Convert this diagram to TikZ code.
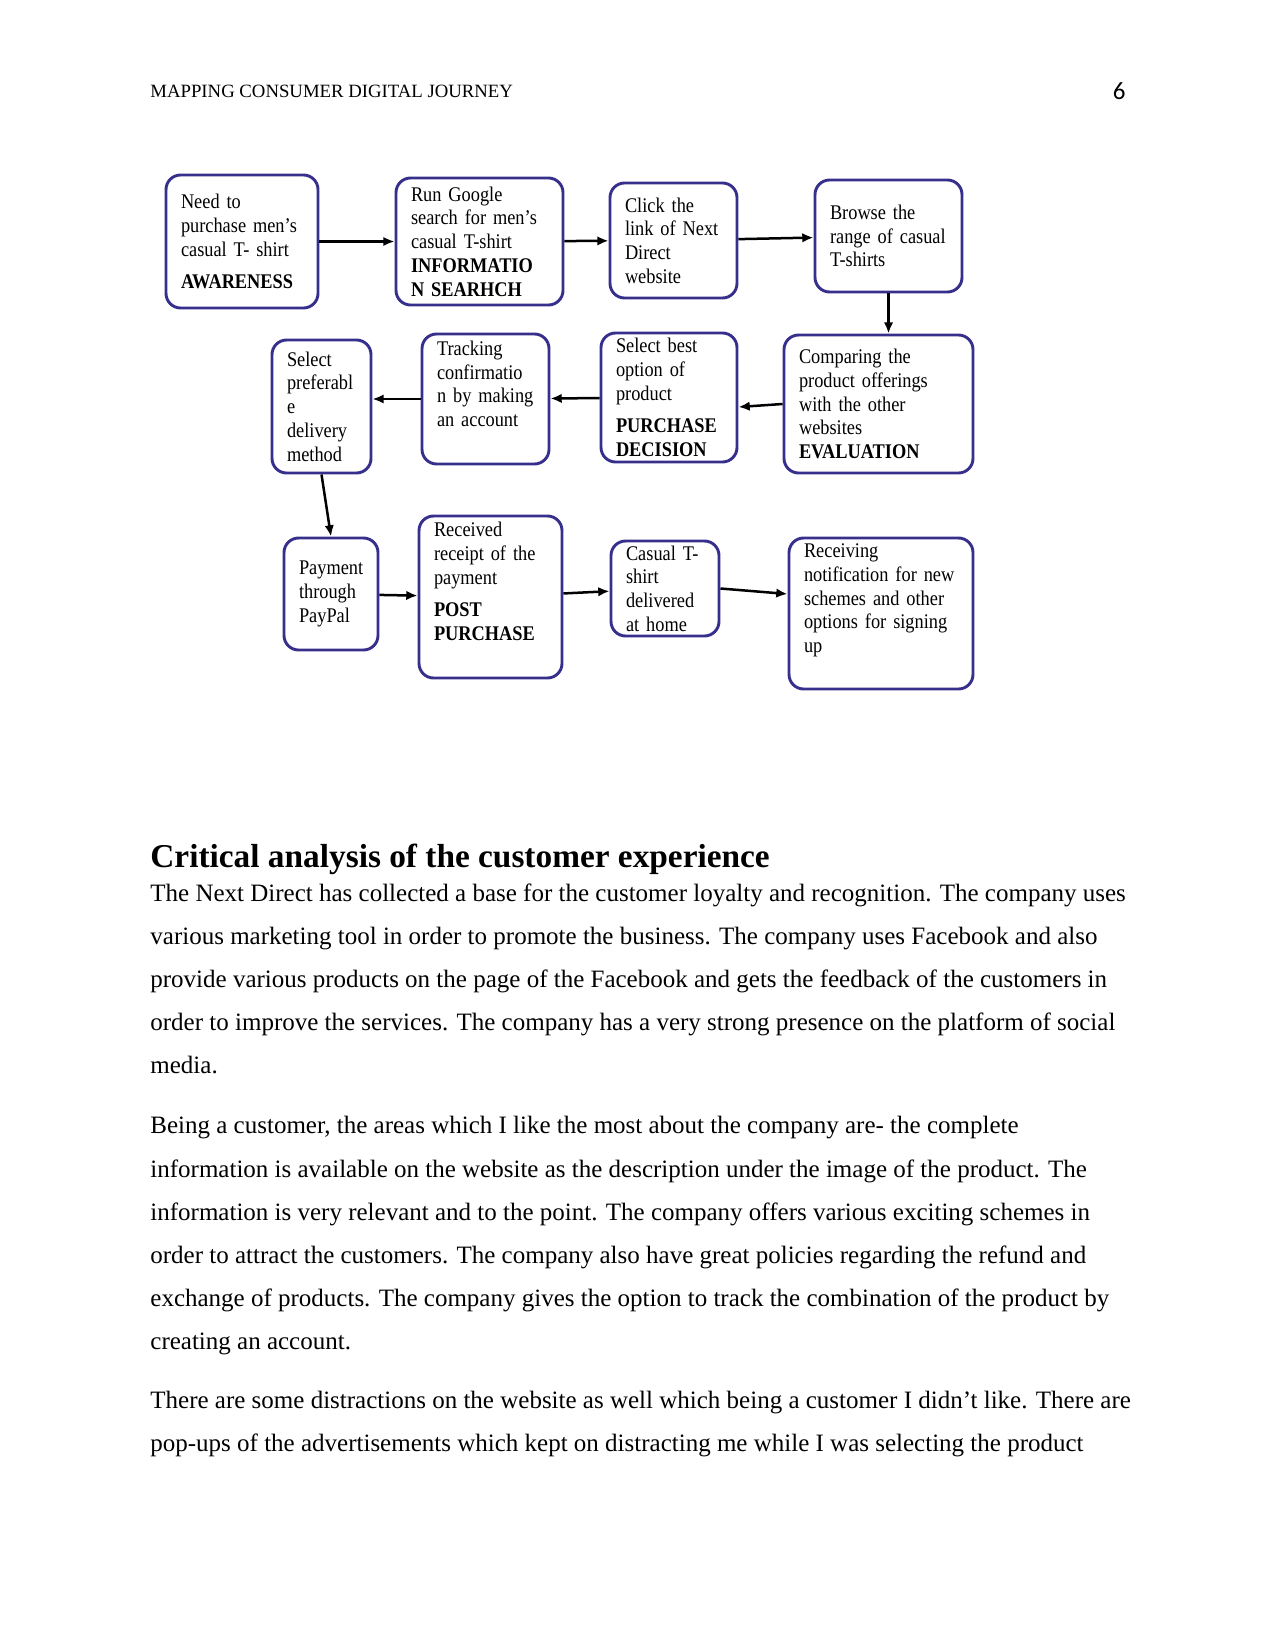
\documentclass[tikz,border=0pt]{standalone}
\usepackage{fontspec}
\usepackage{xcolor}
\usepackage{tikz}
\usetikzlibrary{arrows.meta,calc}
\setmainfont{Liberation Serif}
\newfontfamily\boxfont[FakeStretch=0.88]{Liberation Serif}
\newfontfamily\pagenumfont{Carlito}
\newcommand\stagefont{\boxfont\fontsize{10}{11.4}\selectfont\spaceskip=1.9pt\relax\hyphenpenalty=10000\relax}
\definecolor{journeyblue}{HTML}{372F8C}
\tikzset{
  stage/.style 2 args={rectangle, rounded corners=7pt, draw=journeyblue, line width=1.4pt, fill=white, align=left, font=\stagefont, inner xsep=7.2pt, inner ysep=2pt, minimum width=#1*0.48pt, minimum height=#2*0.48pt, text width=(#1-30)*0.48pt},
  flow/.style={-{Latex[length=1.9mm,width=1.6mm]}, line width=1.2pt},
  bodytext/.style={anchor=base west, align=left, inner sep=0pt, font=\fontsize{12}{20.7}\selectfont},
}

\begin{document}
\begin{tikzpicture}[x=0.48pt,y=-0.48pt]
  \useasboundingbox[fill=white] (0,0) rectangle (1275,1651);
  % running head
  \node[anchor=base west, inner sep=0pt, font=\fontsize{9}{11}\selectfont] (runhead) at (150,98) {MAPPING CONSUMER DIGITAL JOURNEY};
  \node[anchor=base east, inner sep=0pt, font=\pagenumfont\fontsize{12}{14}\selectfont] (pagenum) at (1126,100) {6};
  % journey map, first row
  \node[stage={152}{133}] (need) at (242,241.5) {Need to\\purchase men’s\\casual T- shirt\\[4pt]\textbf{AWARENESS}};
  \node[stage={167}{127}] (google) at (479.5,241.5) {Run Google\\search for men’s\\casual T-shirt\\\textbf{INFORMATIO}\\\textbf{N SEARHCH}};
  \node[stage={127}{115}] (click) at (673.5,240.5) {Click the\\link of Next\\Direct\\website};
  \node[stage={147}{112}] (browse) at (888.5,236) {Browse the\\range of casual\\T-shirts};
  % second row
  \node[stage={189}{138}] (compare) at (878.5,404) {Comparing the\\product offerings\\with the other\\websites\\\textbf{EVALUATION}};
  \node[stage={136}{129}] (selbest) at (669,397.5) {Select best\\option of\\product\\[4pt]\textbf{PURCHASE}\\\textbf{DECISION}};
  \node[stage={127}{130}] (track) at (485.5,399) {Tracking\\confirmatio\\n by making\\an account\\[3.3pt]\mbox{}};
  \node[stage={99}{133}] (delivery) at (321.5,406.5) {Select\\preferabl\\e\\delivery\\method};
  % third row
  \node[stage={94}{112}] (paypal) at (331,594) {Payment\\through\\PayPal};
  \node[stage={143}{162}] (receipt) at (490.5,597) {Received\\receipt of the\\payment\\[4pt]\textbf{POST}\\\textbf{PURCHASE}\\[3.8pt]\mbox{}};
  \node[stage={108}{95}] (home) at (665,588.5) {Casual T-\\shirt\\delivered\\at home};
  \node[stage={184}{151}] (notify) at (881,613.5) {Receiving\\notification for new\\schemes and other\\options for signing\\up\\[3.3pt]\mbox{}};
  % connectors
  \draw[flow] (need) -- (google);
  \draw[flow] (google) -- (click);
  \draw[flow] (click) -- (browse);
  \draw[flow] (browse.south) -- (browse.south |- compare.north);
  \draw[flow] (compare.west) -- ([shift={(0,9.5)}]selbest.east);
  \draw[flow] (selbest) -- (track);
  \draw[flow] (track.west) -- (delivery.east |- track.west);
  \draw[flow] (delivery.south) -- (paypal.north);
  \draw[flow] (paypal) -- (receipt);
  \draw[flow] (receipt) -- (home);
  \draw[flow] (home.east) -- ([shift={(0,-19.5)}]notify.west);
  % text below the map (anchored at the last line)
  \node[anchor=base west, inner sep=0pt, font=\bfseries\fontsize{16}{19}\selectfont] (heading) at (150,867) {Critical analysis of the customer experience};
  \node[bodytext] (para1) at (150,1073.8) {The Next Direct has collected a base for the customer loyalty and recognition. The company uses\\
various marketing tool in order to promote the business. The company uses Facebook and also\\
provide various products on the page of the Facebook and gets the feedback of the customers in\\
order to improve the services. The company has a very strong presence on the platform of social\\
media.};
  \node[bodytext] (para2) at (150,1349.5) {Being a customer, the areas which I like the most about the company are- the complete\\
information is available on the website as the description under the image of the product. The\\
information is very relevant and to the point. The company offers various exciting schemes in\\
order to attract the customers. The company also have great policies regarding the refund and\\
exchange of products. The company gives the option to track the combination of the product by\\
creating an account.};
  \node[bodytext] (para3) at (150,1451.2) {There are some distractions on the website as well which being a customer I didn't like. There are\\
pop-ups of the advertisements which kept on distracting me while I was selecting the product};
\end{tikzpicture}
\end{document}
